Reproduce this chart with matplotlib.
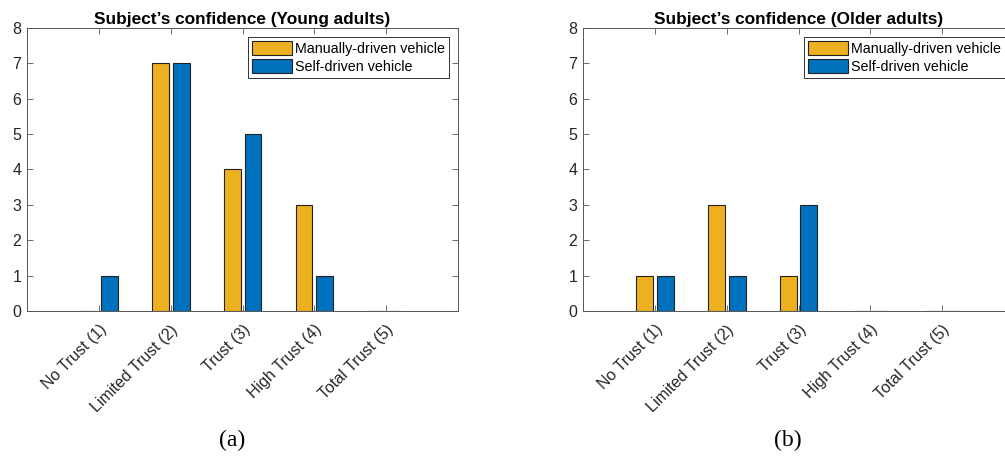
import numpy as np
import matplotlib.pyplot as plt

plt.rcParams['font.family'] = ['Liberation Sans', 'DejaVu Sans']

# Trust levels on the x axis
categories = ["No Trust (1)", "Limited Trust (2)", "Trust (3)", "High Trust (4)", "Total Trust (5)"]

# Number of subjects per trust level
young_manual = [0, 7, 4, 3, 0]
young_self = [1, 7, 5, 1, 0]
older_manual = [1, 3, 1, 0, 0]
older_self = [1, 1, 3, 0, 0]

titles = ["Subject\u2019s confidence (Young adults)", "Subject\u2019s confidence (Older adults)"]
captions = ["(a)", "(b)"]
series_names = ["Manually-driven vehicle", "Self-driven vehicle"]

yellow = "#EDB120"
blue = "#0072BD"
axcol = "#555555"

fig = plt.figure(figsize=(10.05, 4.61), dpi=100)
ax1 = fig.add_axes([0.0269, 0.3254, 0.4289, 0.614])
ax2 = fig.add_axes([0.5801, 0.3254, 0.4289, 0.614])

x = np.arange(1, len(categories) + 1)
w = 0.235

for ax, manual, selfd, title, cap in zip([ax1, ax2], [young_manual, older_manual],
                                         [young_self, older_self], titles, captions):
    ax.bar(x - 0.145, manual, w, color=yellow, edgecolor="#222222", linewidth=0.8,
           label=series_names[0])
    ax.bar(x + 0.145, selfd, w, color=blue, edgecolor="#222222", linewidth=0.8,
           label=series_names[1])
    ax.set_xlim(0, 6)
    ax.set_ylim(0, 8)
    ax.set_yticks(range(0, 9))
    ax.set_xticks(x)
    ax.set_xticklabels(categories, rotation=45, ha="right", rotation_mode="anchor")
    ax.tick_params(direction="in", top=True, right=True, length=4, width=0.6,
                   color=axcol, labelsize=11.5, labelcolor="#262626", pad=4)
    ax.tick_params(axis="x", pad=8)
    for s in ax.spines.values():
        s.set_color(axcol)
        s.set_linewidth(0.7)
    ax.set_title(title, fontsize=12.4, fontweight="bold", pad=3)
    leg = ax.legend(loc="upper right", fontsize=10.3, frameon=True, fancybox=False,
                    handlelength=2.8, handleheight=1.1, handletextpad=0.2,
                    borderpad=0.3, labelspacing=0.25, borderaxespad=0.6,
                    edgecolor="#333333", framealpha=1)
    leg.get_frame().set_linewidth(0.7)
    ax.text(0.475, -0.458, cap, transform=ax.transAxes, ha="center", va="center",
            fontsize=17, family="Liberation Serif")

fig.savefig("out.png", dpi=100)
